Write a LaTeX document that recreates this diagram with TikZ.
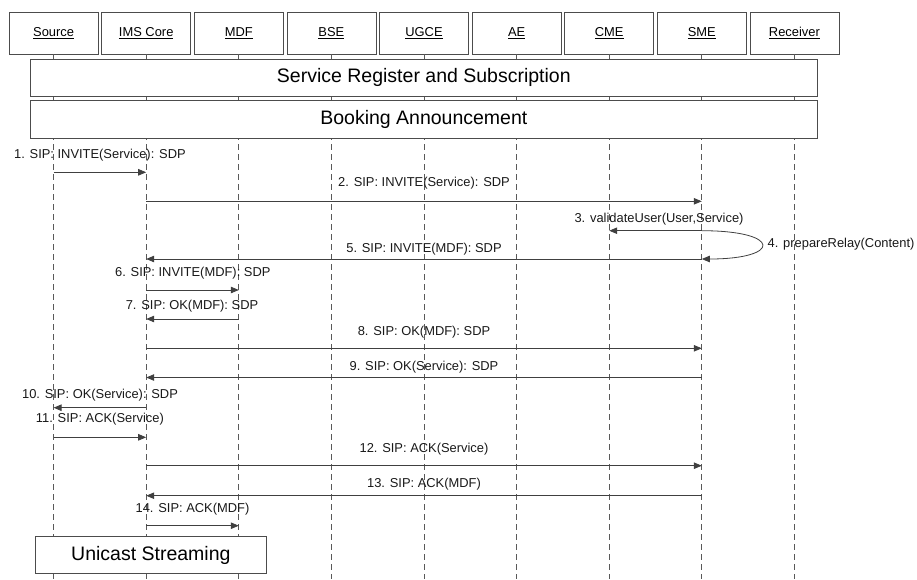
\documentclass[tikz,border=0pt]{standalone}
\usepackage{fontspec}
\setmainfont{Liberation Sans}
\usetikzlibrary{arrows.meta}
\begin{document}
\begin{tikzpicture}[x=1pt,y=-1pt,
  actor/.style={draw=black!70, line width=0.8pt, fill=white, minimum width=89pt,
    minimum height=42pt, inner sep=0pt, font=\fontsize{12.9}{14}\selectfont},
  lifeline/.style={draw=black!65, line width=0.8pt, dash pattern=on 6pt off 4pt},
  band/.style={draw=black!70, line width=0.8pt, fill=white, inner sep=0pt,
    font=\fontsize{19.5}{22}\selectfont},
  msg/.style={draw=black!75, line width=0.8pt, -{Triangle[length=8pt,width=6.5pt]}},
  lbl/.style={font=\fontsize{12.9}{14}\selectfont, inner sep=0pt, text=black!90}]
\useasboundingbox (0,0) rectangle (917,579);

% participants
\node[actor] (src) at (53.6,33)  {\underline{Source}};
\node[actor] (ims) at (146.2,33) {\underline{IMS Core}};
\node[actor] (mdf) at (238.8,33) {\underline{MDF}};
\node[actor] (bse) at (331.4,33) {\underline{BSE}};
\node[actor] (ugce) at (424,33)  {\underline{UGCE}};
\node[actor] (ae) at (516.6,33)  {\underline{AE}};
\node[actor] (cme) at (609.2,33) {\underline{CME}};
\node[actor] (sme) at (701.8,33) {\underline{SME}};
\node[actor] (rcv) at (794.4,33) {\underline{Receiver}};

% lifelines
\foreach \p in {src,ims,mdf,bse,ugce,ae,cme,sme,rcv}
  \draw[lifeline] (\p.south) -- (\p.south |- 0,579);

% phases spanning the lifelines
\node[band, minimum width=787.7pt, minimum height=36.7pt] (reg) at (423.85,77.65)
  {Service Register and Subscription};
\node[band, minimum width=787.7pt, minimum height=37.6pt] (book) at (423.85,119.5)
  {Booking Announcement};
\node[band, minimum width=231.7pt, minimum height=36.6pt] (uni) at (150.85,555)
  {Unicast Streaming};

% messages
\draw[msg] (src |- 0,172.3) -- (ims |- 0,172.3);
\node[lbl] (l1) at (99.9,155) {1. SIP: INVITE(Service): SDP};

\draw[msg] (ims |- 0,201.3) -- (sme |- 0,201.3);
\node[lbl] (l2) at (424,183.5) {2. SIP: INVITE(Service): SDP};

\draw[msg] (sme |- 0,230.7) -- (cme |- 0,230.7);
\node[lbl] (l3) at (659,219.3) {3. validateUser(User,Service)};

\draw[msg] (sme |- 0,230.7) .. controls (782,230.7) and (782,259) .. (sme |- 0,259);
\node[lbl, anchor=west] (l4) at (767.5,244) {4. prepareRelay(Content)};

\draw[msg] (sme |- 0,259) -- (ims |- 0,259);
\node[lbl] (l5) at (424,249) {5. SIP: INVITE(MDF): SDP};

\draw[msg] (ims |- 0,290) -- (mdf |- 0,290);
\node[lbl] (l6) at (192.8,272.7) {6. SIP: INVITE(MDF): SDP};

\draw[msg] (mdf |- 0,319) -- (ims |- 0,319);
\node[lbl] (l7) at (192,305.7) {7. SIP: OK(MDF): SDP};

\draw[msg] (ims |- 0,348.3) -- (sme |- 0,348.3);
\node[lbl] (l8) at (424,331.7) {8. SIP: OK(MDF): SDP};

\draw[msg] (sme |- 0,377.5) -- (ims |- 0,377.5);
\node[lbl] (l9) at (424,366.7) {9. SIP: OK(Service): SDP};

\draw[msg] (ims |- 0,407.7) -- (src |- 0,407.7);
\node[lbl] (l10) at (100,395) {10. SIP: OK(Service): SDP};

\draw[msg] (src |- 0,437.3) -- (ims |- 0,437.3);
\node[lbl] (l11) at (99.9,419.3) {11. SIP: ACK(Service)};

\draw[msg] (ims |- 0,465.7) -- (sme |- 0,465.7);
\node[lbl] (l12) at (424,449) {12. SIP: ACK(Service)};

\draw[msg] (sme |- 0,495.7) -- (ims |- 0,495.7);
\node[lbl] (l13) at (424,484.3) {13. SIP: ACK(MDF)};

\draw[msg] (ims |- 0,525.7) -- (mdf |- 0,525.7);
\node[lbl] (l14) at (192.5,509) {14. SIP: ACK(MDF)};
\end{tikzpicture}
\end{document}
